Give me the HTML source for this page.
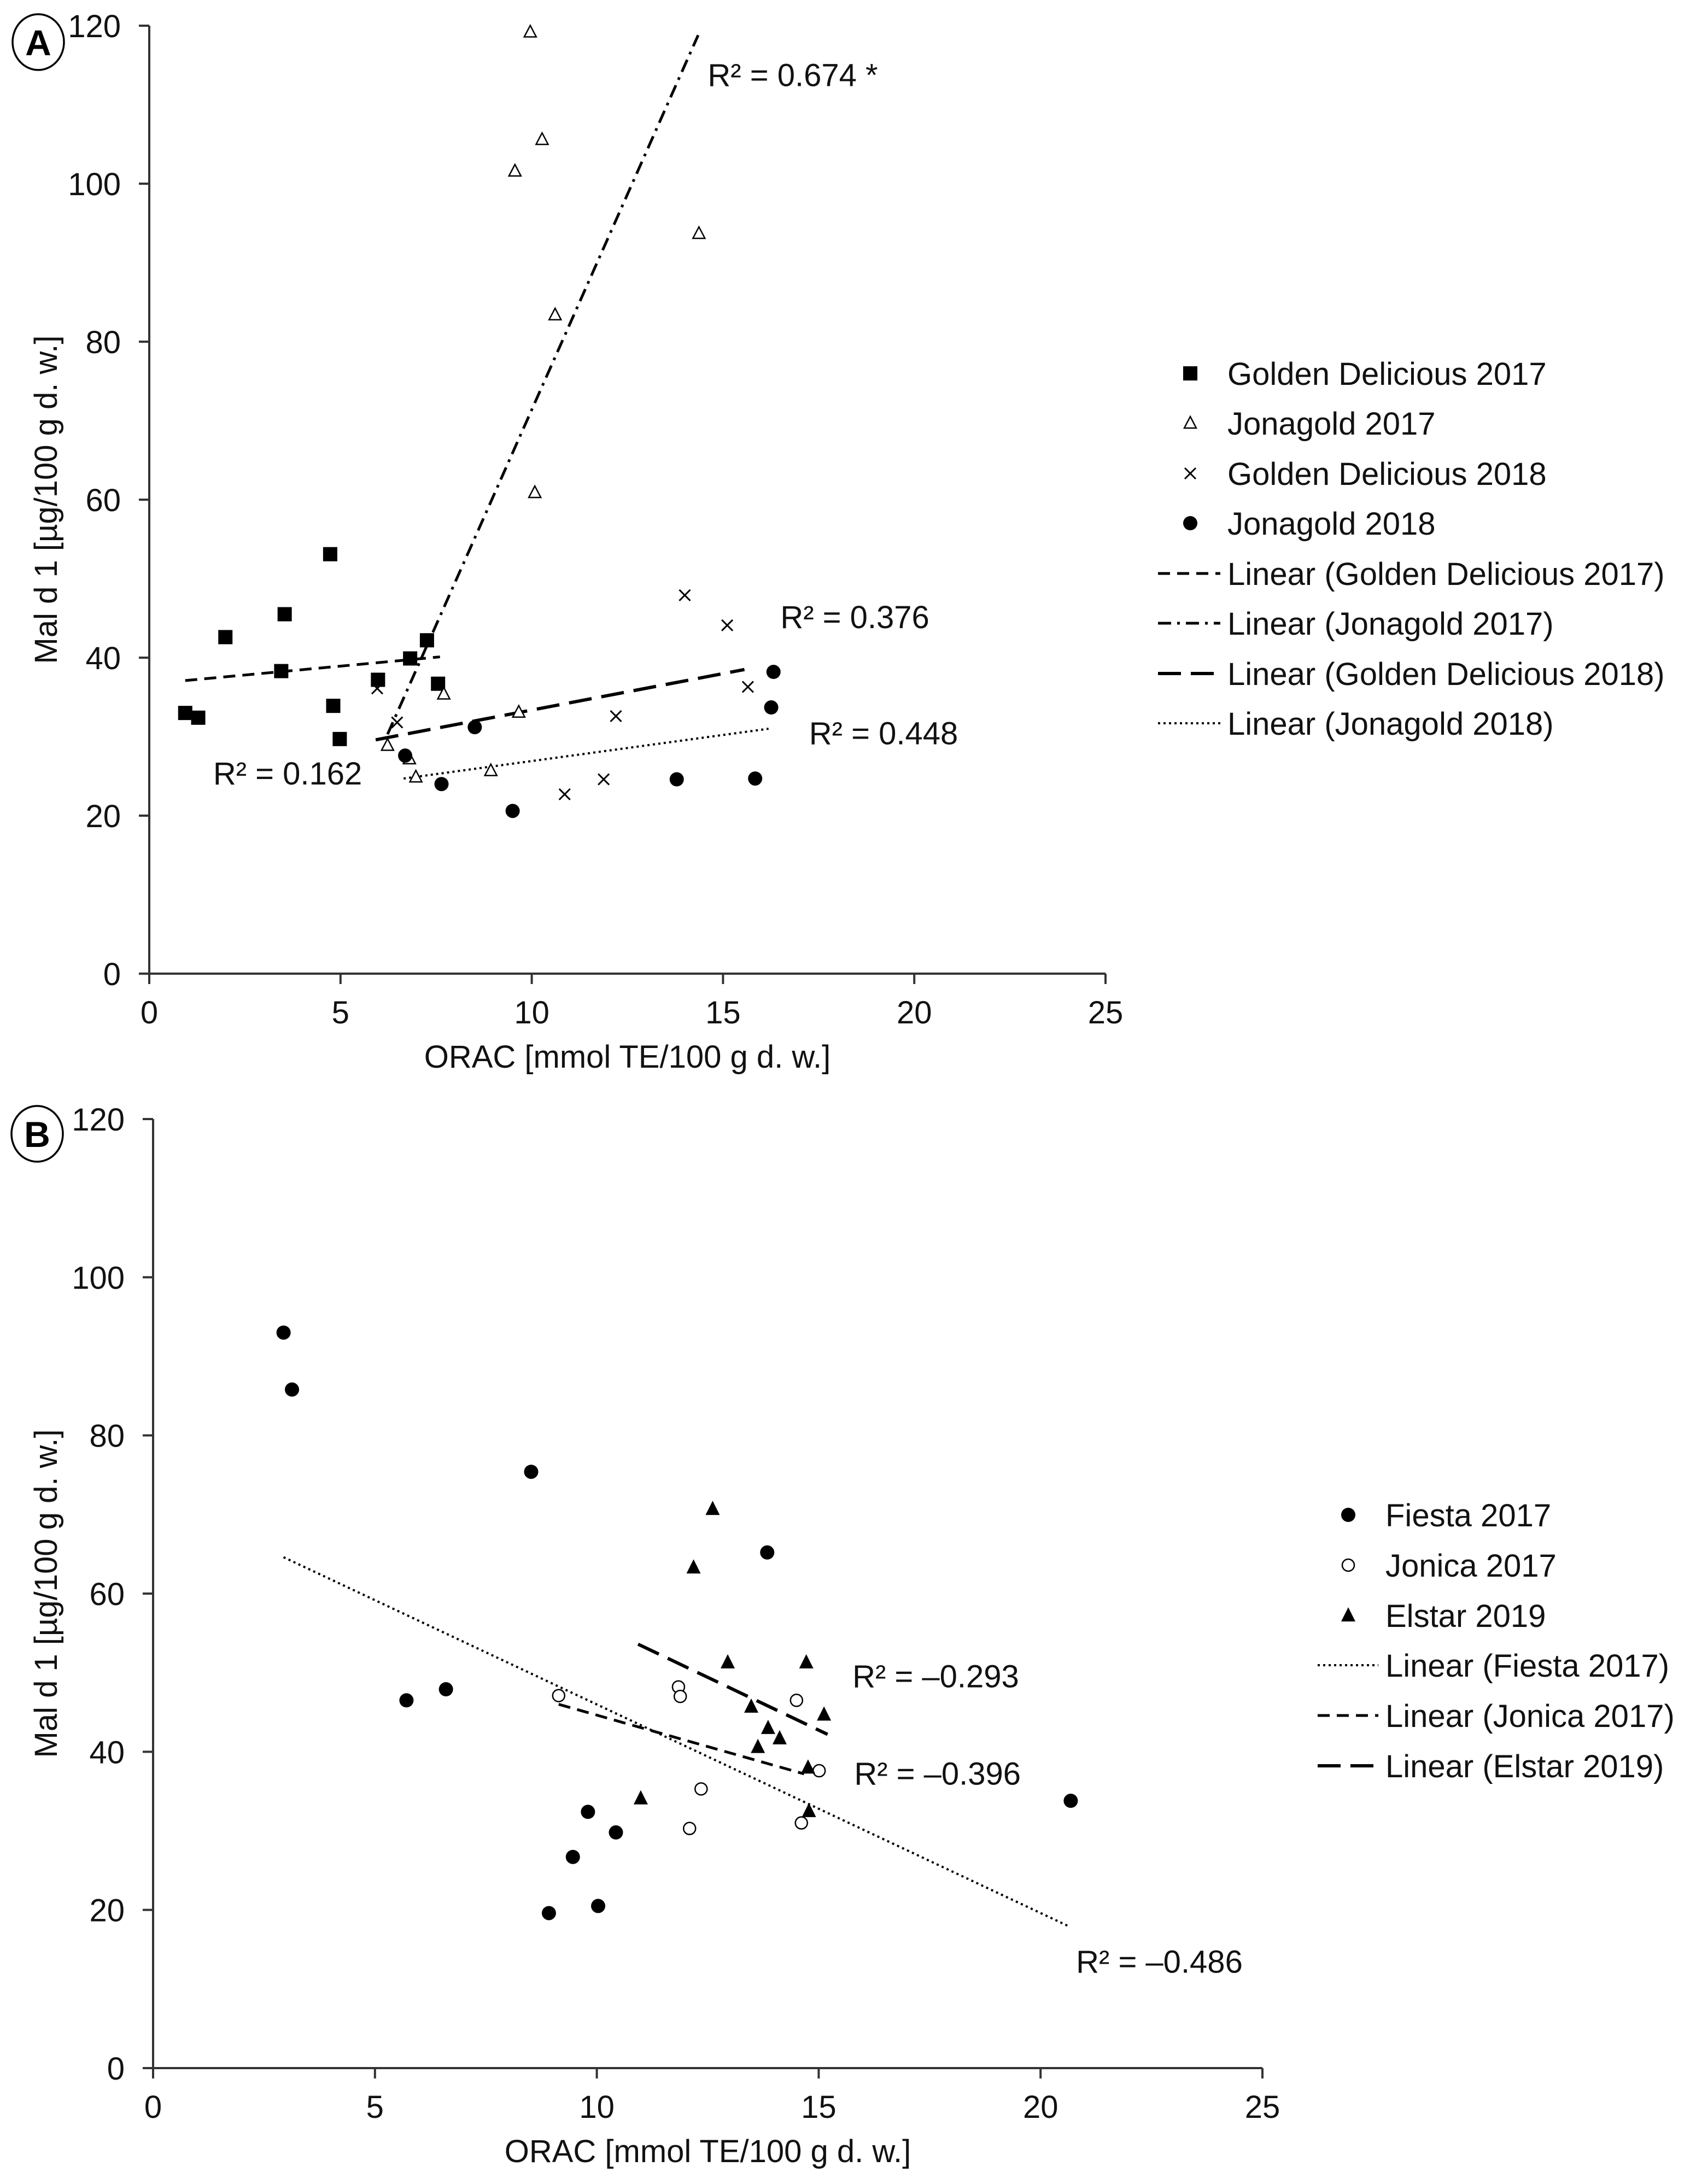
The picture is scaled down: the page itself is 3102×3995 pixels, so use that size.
<!DOCTYPE html>
<html><head><meta charset="utf-8"><style>
html,body{margin:0;padding:0;background:#fff;}
svg{display:block;font-family:"Liberation Sans",Arial,sans-serif;}
</style></head><body>
<svg id="chart" width="3102" height="3995" viewBox="0 0 3102 3995" xmlns="http://www.w3.org/2000/svg">
<rect width="3102" height="3995" fill="#fff"/>
</svg>
<script>
// ---------- Panel A data ----------
const gd17X = [0.94,1.28,1.99,3.45,3.54,4.73,4.81,4.98,5.98,6.82,7.26,7.55];
const gd17Y = [33.0,32.4,42.6,38.3,45.5,53.1,33.9,29.7,37.2,39.9,42.2,36.7];
const jg17X = [9.96,10.27,9.56,14.37,10.61,10.08,7.70,9.66,6.23,6.80,6.97,8.93];
const jg17Y = [119.2,105.6,101.6,93.7,83.4,60.9,35.4,33.1,28.9,27.2,24.9,25.7];
const gd18X = [5.96,6.48,14.0,15.11,15.65,12.2,11.88,10.86];
const gd18Y = [36.1,31.8,47.9,44.1,36.3,32.6,24.6,22.7];
const jg18X = [16.32,16.26,8.51,6.69,7.64,9.50,13.79,15.84];
const jg18Y = [38.2,33.7,31.2,27.6,24.0,20.6,24.6,24.7];
const trendAX = [[0.94,7.6],[6.23,14.35],[5.92,15.56],[6.65,16.19]];
const trendAY = [[37.1,40.1],[30.3,118.8],[29.6,38.5],[24.7,31.0]];
const r2A = ["R² = 0.162","R² = 0.674 *","R² = 0.376","R² = 0.448"];
const r2AX = [1.67,14.6,16.5,17.25];
const r2AY = [25.4,113.8,45.2,30.5];
const legendA = ["Golden Delicious 2017","Jonagold 2017","Golden Delicious 2018","Jonagold 2018","Linear (Golden Delicious 2017)","Linear (Jonagold 2017)","Linear (Golden Delicious 2018)","Linear (Jonagold 2018)"];
// ---------- Panel B data ----------
const fi17X = [2.94,3.13,8.52,13.84,5.71,6.60,9.80,10.43,9.46,8.92,10.03,20.68];
const fi17Y = [93.0,85.8,75.4,65.2,46.5,47.9,32.4,29.8,26.7,19.6,20.5,33.8];
const jo17X = [9.14,11.84,11.88,14.50,15.01,12.35,12.09,14.61];
const jo17Y = [47.1,48.2,47.0,46.5,37.6,35.3,30.3,31.0];
const el19X = [12.61,12.18,12.95,14.72,13.48,15.12,13.86,14.12,13.63,14.76,10.99,14.78];
const el19Y = [70.7,63.3,51.3,51.3,45.7,44.7,43.0,41.7,40.6,38.0,34.1,32.5];
const trendBX = [[2.94,20.61],[9.14,14.67],[10.93,15.2]];
const trendBY = [[64.6,18.0],[46.0,37.2],[53.6,42.2]];
const r2B = ["R² = –0.486","R² = –0.396","R² = –0.293"];
const r2BX = [20.8,15.8,15.76];
const r2BY = [13.5,37.3,49.6];
const legendB = ["Fiesta 2017","Jonica 2017","Elstar 2019","Linear (Fiesta 2017)","Linear (Jonica 2017)","Linear (Elstar 2019)"];
const xTicks = [0,5,10,15,20,25];
const yTicks = [0,20,40,60,80,100,120];

const NS="http://www.w3.org/2000/svg";
const svg=document.getElementById('chart');
function mk(tag,attrs,parent){const e=document.createElementNS(NS,tag);for(const k in attrs)e.setAttribute(k,attrs[k]);(parent||svg).appendChild(e);return e;}

function makeAxes(x0,x1,y0,y1){
  return {sx:v=>x0+(x1-x0)*v/25, sy:v=>y0-(y0-y1)*v/120, x0,x1,y0,y1};
}
const A=makeAxes(273,2022,1781,47);
const B=makeAxes(280,2309,3783,2047);

function axes(ax,g,name){
  const gr=mk('g',{},g);
  
  
  const l1=mk('line',{x1:ax.x0,y1:ax.y0,x2:ax.x1,y2:ax.y0,stroke:'#333','stroke-width':4},gr);
  
  const l2=mk('line',{x1:ax.x0,y1:ax.y0,x2:ax.x0,y2:ax.y1,stroke:'#333','stroke-width':4},gr);
  
  xTicks.forEach(v=>{
    const x=ax.sx(v);
    mk('line',{x1:x,y1:ax.y0,x2:x,y2:ax.y0+19,stroke:'#333','stroke-width':4},gr);
    const t=mk('text',{x:x,y:ax.y0+91,'font-size':58,'text-anchor':'middle',fill:'#111'},gr);
    t.textContent=v;
    
  });
  yTicks.forEach(v=>{
    const y=ax.sy(v);
    mk('line',{x1:ax.x0-19,y1:y,x2:ax.x0,y2:y,stroke:'#333','stroke-width':4},gr);
    const t=mk('text',{x:ax.x0-52,y:y+21,'font-size':58,'text-anchor':'end',fill:'#111'},gr);
    t.textContent=v;
    
  });
  const xt=mk('text',{x:(ax.x0+ax.x1)/2,y:ax.y0+172,'font-size':58,'text-anchor':'middle',fill:'#111'},gr);
  xt.textContent='ORAC [mmol TE/100 g d. w.]';
  
  const cy=(ax.y0+ax.y1)/2;
  const yt=mk('text',{x:84,y:cy,'font-size':58,'text-anchor':'middle',fill:'#111',transform:`rotate(-90 84 ${cy}) translate(0 20)`},gr);
  yt.textContent='Mal d 1 [µg/100 g d. w.]';
  
}

function marker(type,x,y,g){
  let e;
  if(type==='square') e=mk('rect',{x:x-13,y:y-13,width:26,height:26,fill:'#000'},g);
  else if(type==='otri') e=mk('polygon',{points:`${x},${y-12} ${x-11},${y+9} ${x+11},${y+9}`,fill:'#fff',stroke:'#000','stroke-width':2.5},g);
  else if(type==='ftri') e=mk('polygon',{points:`${x},${y-15} ${x-13},${y+11} ${x+13},${y+11}`,fill:'#000'},g);
  else if(type==='cross'){e=mk('path',{d:`M${x-10} ${y-10}L${x+10} ${y+10}M${x+10} ${y-10}L${x-10} ${y+10}`,stroke:'#000','stroke-width':3,fill:'none'},g);}
  else if(type==='fcircle') e=mk('circle',{cx:x,cy:y,r:13,fill:'#000'},g);
  else if(type==='ocircle') e=mk('circle',{cx:x,cy:y,r:11,fill:'#fff',stroke:'#000','stroke-width':2.5},g);
  return e;
}
const dashes={short:{d:'22 13',w:5},dashdot:{d:'24 11 5 11',w:5},long:{d:'42 18',w:6},dot:{d:'4 6',w:4}};

function series(ax,xs,ys,type,name){
  const g=mk('g',{});
  
  xs.forEach((v,i)=>{
    const m=marker(type,ax.sx(v),ax.sy(ys[i]),g);
    
    
  });
}
function trend(ax,xs,ys,style,name){
  const s=dashes[style];
  const l=mk('line',{x1:ax.sx(xs[0]),y1:ax.sy(ys[0]),x2:ax.sx(xs[1]),y2:ax.sy(ys[1]),stroke:'#000','stroke-width':s.w,'stroke-dasharray':s.d});
  
}
function r2label(ax,txt,x,y){
  const t=mk('text',{x:ax.sx(x),y:ax.sy(y)+21,'font-size':58,fill:'#111'});
  t.textContent=txt;
  
}
function legend(items,types,x0,mx,lx1,lx2,ys,name){
  const g=mk('g',{});
  
  items.forEach((txt,i)=>{
    const y=ys[i];
    const typ=types[i];
    if(dashes[typ]){
      const s=dashes[typ];
      mk('line',{x1:lx1,y1:y,x2:lx2,y2:y,stroke:'#000','stroke-width':s.w,'stroke-dasharray':s.d},g);
    } else marker(typ,mx,y,g);
    const t=mk('text',{x:x0,y:y+21,'font-size':58,fill:'#111'},g);
    t.textContent=txt;
    
  });
}
function panelLabel(cx,cy,txt){
  const g=mk('g',{});
  
  mk('ellipse',{cx:cx,cy:cy,rx:47,ry:51,fill:'#fff',stroke:'#000','stroke-width':3.5},g);
  const t=mk('text',{x:cx,y:cy+24,'font-size':66,'font-weight':'bold','text-anchor':'middle',fill:'#000'},g);
  t.textContent=txt;
}

// Panel A
axes(A,svg,'panel-a');
trend(A,trendAX[0],trendAY[0],'short','trend-golden-delicious-2017');
trend(A,trendAX[1],trendAY[1],'dashdot','trend-jonagold-2017');
trend(A,trendAX[2],trendAY[2],'long','trend-golden-delicious-2018');
trend(A,trendAX[3],trendAY[3],'dot','trend-jonagold-2018');
series(A,gd17X,gd17Y,'square','golden-delicious-2017');
series(A,jg17X,jg17Y,'otri','jonagold-2017');
series(A,gd18X,gd18Y,'cross','golden-delicious-2018');
series(A,jg18X,jg18Y,'fcircle','jonagold-2018');
r2A.forEach((t,i)=>r2label(A,t,r2AX[i],r2AY[i]));
legend(legendA,['square','otri','cross','fcircle','short','dashdot','long','dot'],2245,2177,2118,2232,[683,774,866,957,1049,1140,1232,1323],'legend-a');
panelLabel(70,77,'A');

// Panel B
axes(B,svg,'panel-b');
trend(B,trendBX[0],trendBY[0],'dot','trend-fiesta-2017');
trend(B,trendBX[1],trendBY[1],'short','trend-jonica-2017');
trend(B,trendBX[2],trendBY[2],'long','trend-elstar-2019');
series(B,fi17X,fi17Y,'fcircle','fiesta-2017');
series(B,jo17X,jo17Y,'ocircle','jonica-2017');
series(B,el19X,el19Y,'ftri','elstar-2019');
r2B.forEach((t,i)=>r2label(B,t,r2BX[i],r2BY[i]));
legend(legendB,['fcircle','ocircle','ftri','dot','short','long'],2534,2466,2410,2521,[2771,2863,2955,3046,3138,3230],'legend-b');
panelLabel(68,2074,'B');
</script>
</body></html>
